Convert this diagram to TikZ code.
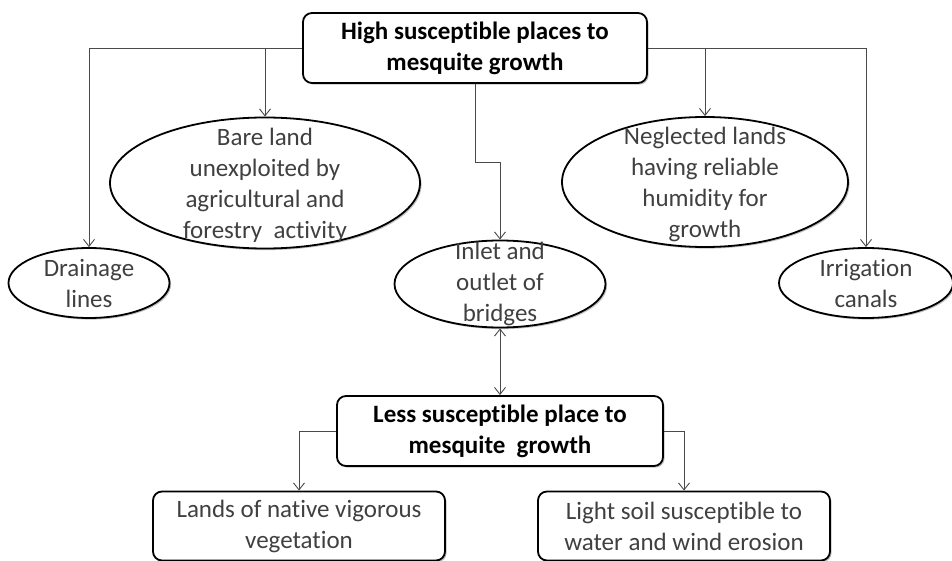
\documentclass[tikz,border=0pt]{standalone}
\usepackage{fontspec}
\setmainfont{Carlito}[Ligatures={NoCommon}]
\usetikzlibrary{shapes.geometric,arrows.meta,shadows}
\definecolor{txtgray}{HTML}{404040}
\definecolor{linegray}{HTML}{4A4A4A}
\newcommand{\diagfont}{\fontsize{25}{31}\selectfont}
\tikzset{
  shade/.style={drop shadow={shadow xshift=1.6pt,shadow yshift=-1.6pt,opacity=0.35,fill=black!70}},
  headbox/.style={draw=black,line width=1.8pt,rounded corners=9pt,fill=white,shade,
    inner sep=0pt,align=center,font=\bfseries\diagfont,text=black},
  leafbox/.style={draw=black,line width=1.8pt,rounded corners=9pt,fill=white,shade,
    inner sep=0pt,align=center,font=\diagfont,text=txtgray},
  oval/.style={ellipse,draw=black,line width=1.8pt,fill=white,shade,inner sep=0pt},
  ovaltext/.style={align=center,font=\diagfont,text=txtgray,inner sep=0pt},
  arr/.style={draw=linegray,line width=0.9pt,-{Straight Barb[length=7pt,width=11pt,line width=0.9pt]}},
  arrboth/.style={draw=linegray,line width=0.9pt,{Straight Barb[length=7pt,width=11pt,line width=0.9pt]}-{Straight Barb[length=7pt,width=11pt,line width=0.9pt]}}
}
\begin{document}
\begin{tikzpicture}[x=1pt,y=-1pt]
\useasboundingbox (0,0) rectangle (952,561);

% header box
\node[headbox,minimum width=344pt,minimum height=70pt] (hi) at (475,48)
  {High susceptible places to\\mesquite growth};

% ellipses
\node[oval,minimum width=310pt,minimum height=131pt] (bare) at (265,183) {};
\node[ovaltext] at ([yshift=-2pt]bare.center) {Bare land\\unexploited by\\agricultural and\\forestry~ activity};

\node[oval,minimum width=286pt,minimum height=130pt] (negl) at (705,182) {};
\node[ovaltext] at ([yshift=-2pt]negl.center) {Neglected lands\\having reliable\\humidity for\\growth};

\node[oval,minimum width=161pt,minimum height=70pt] (drain) at (89,283) {};
\node[ovaltext] at (drain.center) {Drainage\\lines};

\node[oval,minimum width=174pt,minimum height=70pt] (irrig) at (866,283) {};
\node[ovaltext] at (irrig.center) {Irrigation\\canals};

\node[oval,minimum width=211pt,minimum height=87pt] (inlet) at (500,284) {};
\node[ovaltext] at (inlet.center) {Inlet and\\outlet of\\bridges};

% lower boxes
\node[headbox,minimum width=326pt,minimum height=70pt] (less) at (500,431)
  {Less susceptible place to\\mesquite~ growth};
\node[leafbox,minimum width=292pt,minimum height=69pt] (lands) at (299,526)
  {Lands of native vigorous\\vegetation};
\node[leafbox,minimum width=292pt,minimum height=69pt] (light) at (684,526)
  {Light soil susceptible to\\water and wind erosion};

% connectors
\draw[arr] (hi.west) -| (drain.north);
\draw[arr] (hi.west) -| (bare.north);
\draw[arr] (hi.east) -| (negl.north);
\draw[arr] (hi.east) -| (irrig.north);
\coordinate (bend) at ([yshift=-79pt]hi.south);
\draw[arr] (hi.south) -- (bend) -| (inlet.north);
\draw[arrboth] (inlet.south) -- (less.north);
\draw[arr] (less.west) -| (lands.north);
\draw[arr] (less.east) -| (light.north);
\end{tikzpicture}
\end{document}
